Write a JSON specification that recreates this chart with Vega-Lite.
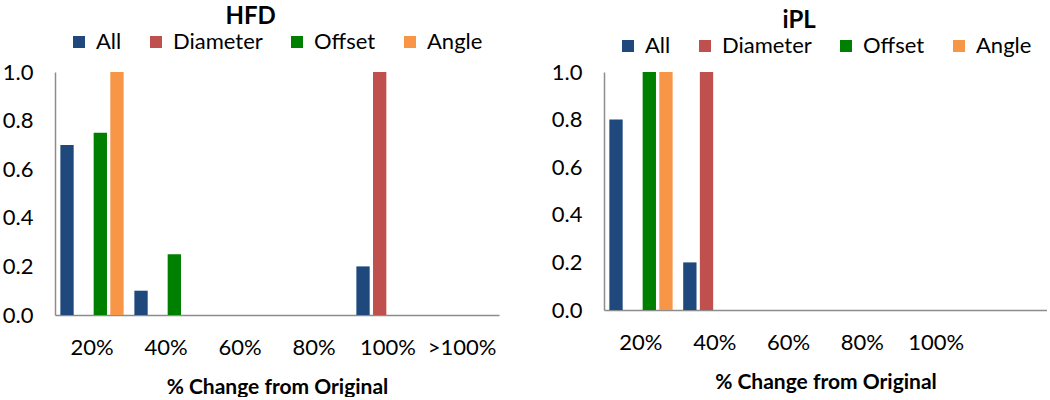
{
  "$schema": "https://vega.github.io/schema/vega-lite/v6.json",
  "padding": {"left": 2, "top": 5, "right": 0, "bottom": 0},
  "background": "white",
  "config": {
    "font": "Lato",
    "view": {"stroke": null},
    "axis": {"labelFont": "Lato", "labelFontSize": 22, "labelColor": "#000", "domainColor": "#8c8c8c", "domainWidth": 1.5, "ticks": false, "grid": false, "titleFont": "Lato", "titleFontSize": 21, "titleFontWeight": "bold", "titleColor": "#000"},
    "legend": {"symbolType": "square", "symbolSize": 144, "symbolStrokeWidth": 0, "symbolOpacity": 1, "labelFont": "Lato", "labelFontSize": 22, "labelColor": "#000", "labelOffset": 6, "columnPadding": 23, "padding": 0, "direction": "horizontal", "title": null},
    "title": {"font": "Lato", "fontSize": 24, "fontWeight": "bold", "color": "#000", "anchor": "middle", "frame": "bounds", "offset": 2}
  },
  "datasets": {
    "hfd": [
      {"change": "20%", "series": "All", "value": 0.7},
      {"change": "20%", "series": "Offset", "value": 0.75},
      {"change": "20%", "series": "Angle", "value": 1.0},
      {"change": "40%", "series": "All", "value": 0.1},
      {"change": "40%", "series": "Offset", "value": 0.25},
      {"change": "100%", "series": "All", "value": 0.2},
      {"change": "100%", "series": "Diameter", "value": 1.0}
    ],
    "ipl": [
      {"change": "20%", "series": "All", "value": 0.8},
      {"change": "20%", "series": "Offset", "value": 1.0},
      {"change": "20%", "series": "Angle", "value": 1.0},
      {"change": "40%", "series": "All", "value": 0.2},
      {"change": "40%", "series": "Diameter", "value": 1.0}
    ]
  },
  "spacing": 52,
  "resolve": {"scale": {"color": "independent"}, "legend": {"color": "independent"}},
  "hconcat": [
    {
      "title": {"text": "HFD"},
      "width": 444,
      "height": 243,
      "data": {"name": "hfd"},
      "mark": {"type": "bar"},
      "encoding": {
        "x": {"field": "change", "type": "nominal", "scale": {"domain": ["20%", "40%", "60%", "80%", "100%", ">100%"], "paddingInner": 0.1, "paddingOuter": 0.05}, "axis": {"labelAngle": 0, "labelPadding": 22, "title": "% Change from Original", "titlePadding": 18}},
        "xOffset": {"field": "series", "scale": {"domain": ["All", "Diameter", "Offset", "Angle"], "paddingInner": 0.2, "paddingOuter": 0.1}},
        "y": {"field": "value", "type": "quantitative", "scale": {"domain": [0, 1], "nice": false}, "axis": {"values": [0, 0.2, 0.4, 0.6, 0.8, 1], "format": ".1f", "labelPadding": 22, "title": null}},
        "color": {"field": "series", "type": "nominal", "scale": {"domain": ["All", "Diameter", "Offset", "Angle"], "range": ["#1F497D", "#C0504D", "#008000", "#F79646"]}, "legend": {"orient": "none", "legendX": 13, "legendY": -41}}
      }
    },
    {
      "title": {"text": "iPL"},
      "width": 443,
      "height": 238,
      "data": {"name": "ipl"},
      "mark": {"type": "bar"},
      "encoding": {
        "x": {"field": "change", "type": "nominal", "scale": {"domain": ["20%", "40%", "60%", "80%", "100%", ">100%"], "paddingInner": 0.1, "paddingOuter": 0.05}, "axis": {"labelAngle": 0, "labelPadding": 22, "labelExpr": "datum.value == '>100%' ? '' : datum.label", "title": "% Change from Original", "titlePadding": 18}},
        "xOffset": {"field": "series", "scale": {"domain": ["All", "Diameter", "Offset", "Angle"], "paddingInner": 0.2, "paddingOuter": 0.1}},
        "y": {"field": "value", "type": "quantitative", "scale": {"domain": [0, 1], "nice": false}, "axis": {"values": [0, 0.2, 0.4, 0.6, 0.8, 1], "format": ".1f", "labelPadding": 22, "title": null}},
        "color": {"field": "series", "type": "nominal", "scale": {"domain": ["All", "Diameter", "Offset", "Angle"], "range": ["#1F497D", "#C0504D", "#008000", "#F79646"]}, "legend": {"orient": "none", "legendX": 13, "legendY": -37}}
      }
    }
  ]
}
